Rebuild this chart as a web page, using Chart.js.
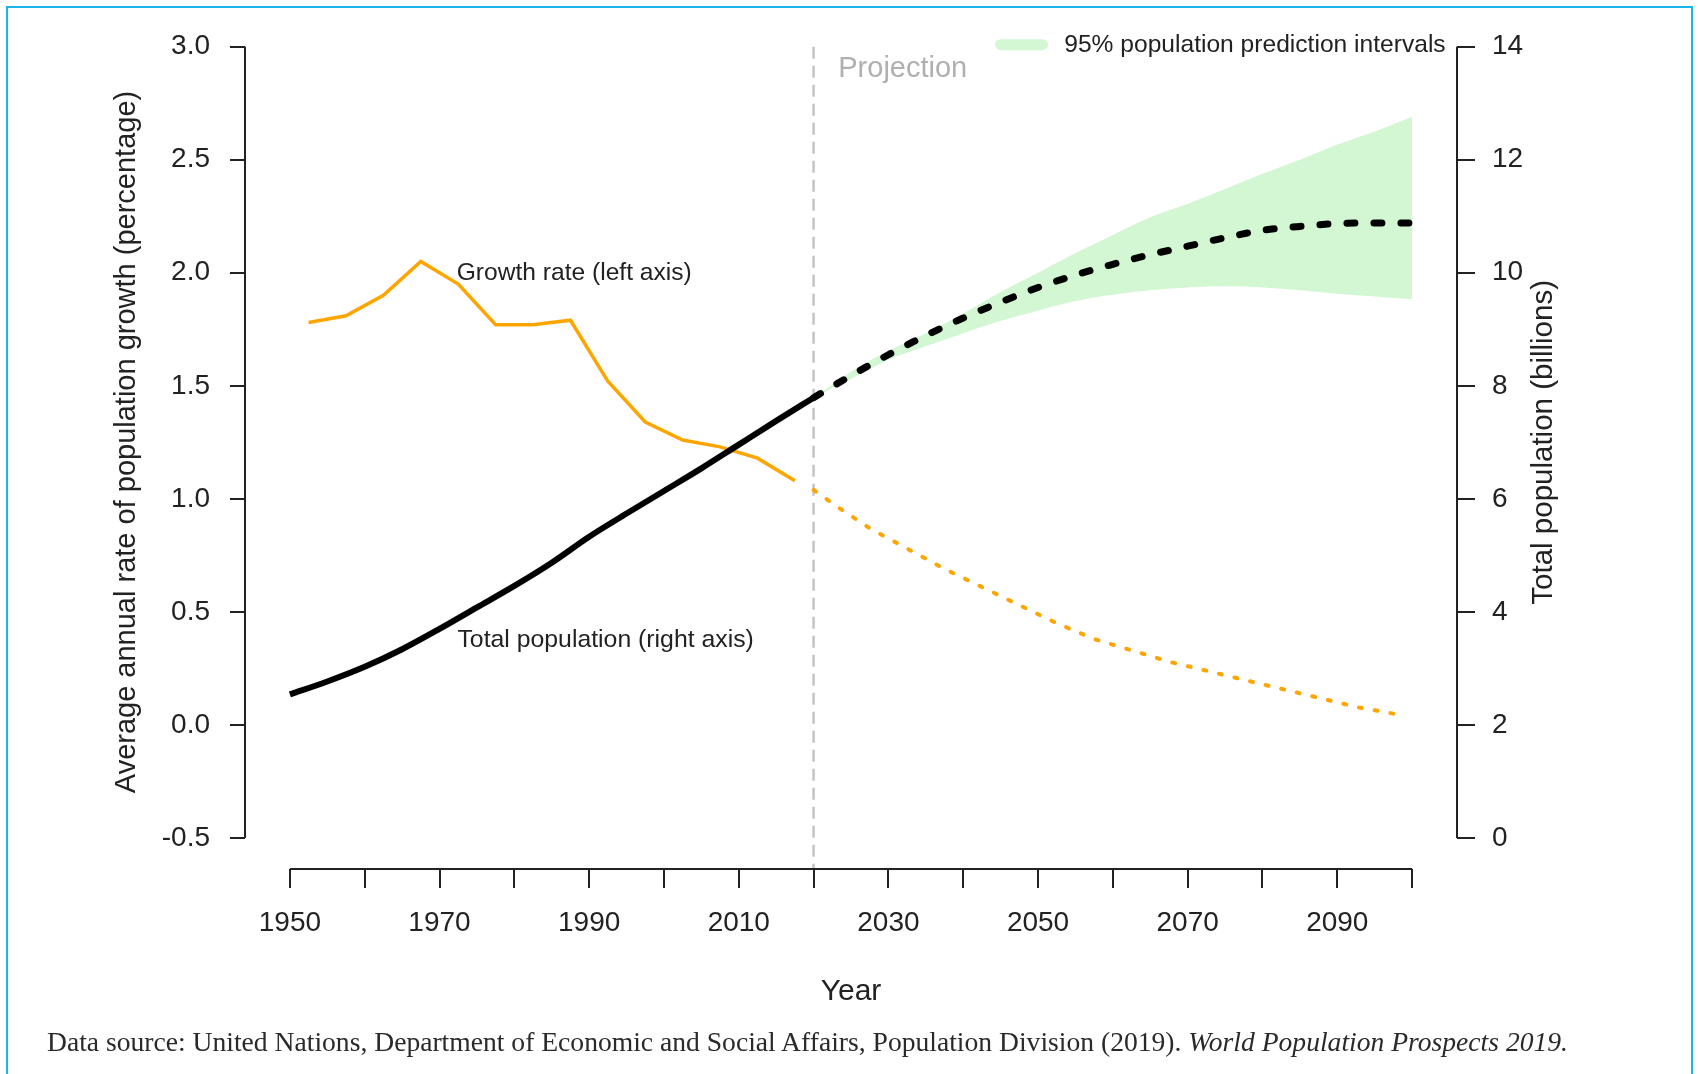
<!DOCTYPE html>
<html>
<head>
<meta charset="utf-8">
<title>World population and growth rate, 1950-2100</title>
<script src="https://cdn.jsdelivr.net/npm/chart.js@4.4.1/dist/chart.umd.min.js"></script>
<style>
  html, body { margin: 0; padding: 0; background: #fff; }
  #wrap { position: relative; width: 1698px; height: 1074px; overflow: hidden; }
  #chart { position: absolute; left: 0; top: 0; }
  #frame { position: absolute; left: 6px; top: 6px; width: 1687px; height: 1200px;
           border: 2px solid #1db4ec; border-bottom: none; box-sizing: border-box; }
  #source { position: absolute; left: 47px; top: 1023px; font-family: 'Liberation Serif', 'Times New Roman', serif;
            font-size: 27.6px; line-height: 38px; color: #2a2a2a; white-space: nowrap; }
</style>
</head>
<body>
<div id="wrap">
  <canvas id="chart" width="1698" height="1074"></canvas>
  <div id="frame"></div>
  <div id="source">Data source: United Nations, Department of Economic and Social Affairs, Population Division (2019). <i>World Population Prospects 2019.</i></div>
</div>
<script>
// growth rate, 5-year periods (midpoints), estimates
const estYears = [1952.5, 1957.5, 1962.5, 1967.5, 1972.5, 1977.5, 1982.5, 1987.5, 1992.5, 1997.5, 2002.5, 2007.5, 2012.5, 2017.5];
const growthEst = [1.78, 1.81, 1.90, 2.05, 1.95, 1.77, 1.77, 1.79, 1.52, 1.34, 1.26, 1.23, 1.18, 1.08];

// growth rate, projection
const projYears = [2020, 2022.5, 2027.5, 2032.5, 2037.5, 2042.5, 2047.5, 2052.5, 2057.5, 2062.5, 2067.5, 2072.5, 2077.5, 2082.5, 2087.5, 2092.5, 2097.5];
const growthProj = [1.04, 0.98, 0.87, 0.78, 0.69, 0.61, 0.53, 0.45, 0.38, 0.33, 0.28, 0.24, 0.20, 0.16, 0.12, 0.08, 0.05];

// total population (billions)
const popYears = [1950, 1955, 1960, 1965, 1970, 1975, 1980, 1985, 1990, 1995, 2000, 2005, 2010, 2015, 2020];
const popEst = [2.54, 2.77, 3.03, 3.34, 3.70, 4.08, 4.46, 4.87, 5.33, 5.74, 6.14, 6.54, 6.96, 7.38, 7.79];

const popProjYears = [2020, 2025, 2030, 2035, 2040, 2045, 2050, 2055, 2060, 2065, 2070, 2075, 2080, 2085, 2090, 2095, 2100];
const popProj = [7.79, 8.18, 8.55, 8.89, 9.20, 9.48, 9.74, 9.96, 10.15, 10.32, 10.47, 10.62, 10.75, 10.82, 10.87, 10.88, 10.88];
const popLow95 = [7.79, 8.12, 8.46, 8.70, 8.93, 9.15, 9.33, 9.50, 9.61, 9.69, 9.74, 9.76, 9.74, 9.69, 9.63, 9.58, 9.53];
const popHigh95 = [7.79, 8.25, 8.62, 8.93, 9.28, 9.66, 10.00, 10.35, 10.67, 10.98, 11.22, 11.48, 11.75, 12.00, 12.27, 12.50, 12.76];

// axes
const yearTicks = [1950, 1960, 1970, 1980, 1990, 2000, 2010, 2020, 2030, 2040, 2050, 2060, 2070, 2080, 2090, 2100];
const yearLabels = [1950, 1970, 1990, 2010, 2030, 2050, 2070, 2090];
const rateTicks = [-0.5, 0, 0.5, 1, 1.5, 2, 2.5, 3];
const popTicks = [0, 2, 4, 6, 8, 10, 12, 14];
const projectionYear = 2020;

const FONT = '"Liberation Sans", Arial, Helvetica, sans-serif';
const INK = '#222';
const ORANGE = '#FFA500';
const BAND = 'rgb(211, 247, 211)';

const pts = (xs, ys) => xs.map((x, i) => ({ x: x, y: ys[i] }));

// R style axes: line only from first to last tick
const rAxes = {
  id: 'rAxes',
  afterDraw(chart) {
    const { ctx, chartArea, scales } = chart;
    ctx.save();
    ctx.strokeStyle = INK;
    ctx.lineWidth = 2;
    ctx.beginPath();
    ctx.moveTo(chartArea.left, scales.y.getPixelForValue(rateTicks[rateTicks.length - 1]));
    ctx.lineTo(chartArea.left, scales.y.getPixelForValue(rateTicks[0]));
    ctx.moveTo(chartArea.right, scales.y2.getPixelForValue(popTicks[popTicks.length - 1]));
    ctx.lineTo(chartArea.right, scales.y2.getPixelForValue(popTicks[0]));
    ctx.moveTo(scales.x.getPixelForValue(yearTicks[0]), chartArea.bottom);
    ctx.lineTo(scales.x.getPixelForValue(yearTicks[yearTicks.length - 1]), chartArea.bottom);
    ctx.stroke();

    // right axis title, read bottom to top like the left one
    const yMid = (scales.y2.getPixelForValue(popTicks[0]) + scales.y2.getPixelForValue(popTicks[popTicks.length - 1])) / 2;
    ctx.translate(chartArea.right + 87, yMid);
    ctx.rotate(-Math.PI / 2);
    ctx.font = '29.5px ' + FONT;
    ctx.fillStyle = INK;
    ctx.textAlign = 'center';
    ctx.textBaseline = 'middle';
    ctx.fillText('Total population (billions)', 0, 0);
    ctx.restore();
  }
};

// in-plot labels and legend
const notes = {
  id: 'notes',
  afterDatasetsDraw(chart) {
    const { ctx, scales: { x, y } } = chart;
    ctx.save();
    ctx.textBaseline = 'middle';
    ctx.textAlign = 'left';

    ctx.font = '24.6px ' + FONT;
    ctx.fillStyle = INK;
    ctx.fillText('Growth rate (left axis)', x.getPixelForValue(1972.3), y.getPixelForValue(2.0));
    ctx.font = '24.8px ' + FONT;
    ctx.fillText('Total population (right axis)', x.getPixelForValue(1972.4), y.getPixelForValue(0.375));

    ctx.font = '29px ' + FONT;
    ctx.fillStyle = '#b0b0b0';
    ctx.fillText('Projection', x.getPixelForValue(2023.3), y.getPixelForValue(2.9));

    // legend for the band
    ctx.strokeStyle = BAND;
    ctx.lineWidth = 11;
    ctx.lineCap = 'round';
    ctx.beginPath();
    ctx.moveTo(x.getPixelForValue(2045), y.getPixelForValue(3.0) - 2);
    ctx.lineTo(x.getPixelForValue(2050.6), y.getPixelForValue(3.0) - 2);
    ctx.stroke();
    ctx.font = '24.6px ' + FONT;
    ctx.fillStyle = INK;
    ctx.fillText('95% population prediction intervals', x.getPixelForValue(2053.5), y.getPixelForValue(3.0) - 1);
    ctx.restore();
  }
};

const tickGrid = (len) => ({
  display: true,
  drawOnChartArea: false,
  drawTicks: true,
  tickLength: len,
  color: INK,
  lineWidth: 2
});

// keep vertical scales from pushing the plot area down
const noPad = (s) => { s.paddingTop = 0; s.paddingBottom = 0; };

const config = {
  type: 'line',
  data: {
    datasets: [
      {
        label: 'Total population (right axis)',
        data: pts(popYears, popEst),
        yAxisID: 'y2',
        borderColor: '#000',
        borderWidth: 6,
        pointRadius: 0,
        cubicInterpolationMode: 'monotone',
        fill: false
      },
      {
        label: 'Total population, projection',
        data: pts(popProjYears, popProj),
        yAxisID: 'y2',
        borderColor: '#000',
        borderWidth: 7,
        borderDash: [8, 19],
        borderCapStyle: 'round',
        pointRadius: 0,
        cubicInterpolationMode: 'monotone',
        fill: false
      },
      {
        label: 'Growth rate (left axis)',
        data: pts(estYears, growthEst),
        yAxisID: 'y',
        borderColor: ORANGE,
        borderWidth: 3.5,
        pointRadius: 0,
        tension: 0,
        fill: false
      },
      {
        label: 'Growth rate, projection',
        data: pts(projYears, growthProj),
        yAxisID: 'y',
        borderColor: ORANGE,
        borderWidth: 4,
        borderDash: [3, 13],
        borderCapStyle: 'round',
        pointRadius: 0,
        tension: 0,
        fill: false
      },
      {
        label: 'Projection',
        data: [{ x: projectionYear, y: rateTicks[rateTicks.length - 1] }, { x: projectionYear, y: -0.637 }],
        yAxisID: 'y',
        borderColor: '#c4c4c4',
        borderWidth: 2.5,
        borderDash: [12, 7],
        pointRadius: 0,
        fill: false
      },
      {
        label: '95% population prediction intervals',
        data: pts(popProjYears, popHigh95),
        yAxisID: 'y2',
        borderWidth: 0,
        borderColor: BAND,
        backgroundColor: BAND,
        pointRadius: 0,
        cubicInterpolationMode: 'monotone',
        fill: '+1'
      },
      {
        label: 'lower 95%',
        data: pts(popProjYears, popLow95),
        yAxisID: 'y2',
        borderWidth: 0,
        borderColor: BAND,
        pointRadius: 0,
        cubicInterpolationMode: 'monotone',
        fill: false
      }
    ]
  },
  options: {
    responsive: false,
    animation: false,
    devicePixelRatio: 1,
    layout: { padding: { top: 15, left: 0, right: 0, bottom: 0 } },
    plugins: {
      legend: { display: false },
      tooltip: { enabled: false }
    },
    scales: {
      x: {
        type: 'linear',
        min: 1944,
        max: 2106,
        afterBuildTicks: (s) => { s.ticks = yearTicks.map((v) => ({ value: v })); },
        afterFit: (s) => { s.height = 205; s.paddingLeft = 0; s.paddingRight = 0; },
        border: { display: false },
        grid: tickGrid(19),
        ticks: {
          autoSkip: false,
          maxRotation: 0,
          padding: 18,
          color: INK,
          font: { family: FONT, size: 28 },
          callback: (v) => (yearLabels.includes(v) ? String(v) : '')
        },
        title: {
          display: true,
          text: 'Year',
          color: INK,
          font: { family: FONT, size: 30 },
          padding: { top: 0, bottom: 64 }
        }
      },
      y: {
        type: 'linear',
        position: 'left',
        min: -0.637,
        max: 3.14,
        afterBuildTicks: (s) => { s.ticks = rateTicks.map((v) => ({ value: v })); },
        afterFit: (s) => { s.width = 245; noPad(s); },
        border: { display: false },
        grid: tickGrid(15),
        ticks: {
          padding: 20,
          color: INK,
          font: { family: FONT, size: 28 },
          callback: (v) => v.toFixed(1)
        },
        title: {
          display: true,
          text: 'Average annual rate of population growth (percentage)',
          color: INK,
          font: { family: FONT, size: 29 },
          padding: { top: 110, bottom: 0 }
        }
      },
      y2: {
        type: 'linear',
        position: 'right',
        min: -0.548,
        max: 14.56,
        afterBuildTicks: (s) => { s.ticks = popTicks.map((v) => ({ value: v })); },
        afterFit: (s) => { s.width = 241; noPad(s); },
        border: { display: false },
        grid: tickGrid(18),
        ticks: {
          padding: 17,
          color: INK,
          font: { family: FONT, size: 28 },
          callback: (v) => String(v)
        },
        title: { display: false }
      }
    }
  },
  plugins: [rAxes, notes]
};

const myChart = new Chart(document.getElementById('chart'), config);
</script>
</body>
</html>
